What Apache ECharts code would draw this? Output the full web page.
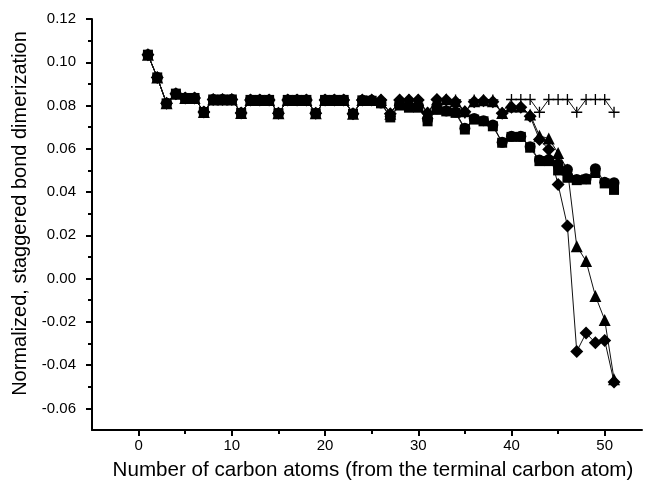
<!DOCTYPE html>
<html>
<head>
<meta charset="utf-8">
<script src="https://cdn.jsdelivr.net/npm/echarts@6/dist/echarts.min.js"></script>
<style>
  html, body { margin: 0; padding: 0; background: #fff; }
  #chart { width: 645px; height: 491px; }
</style>
</head>
<body>
<div id="chart"></div>
<script>
// Carbon atom index counted from the terminal carbon atom
const atoms = [1,2,3,4,5,6,7,8,9,10,11,12,13,14,15,16,17,18,19,20,21,22,23,24,25,26,27,28,29,30,31,32,33,34,35,36,37,38,39,40,41,42,43,44,45,46,47,48,49,50,51];

// Normalized staggered bond dimerization, one list per chain configuration
const squareVals = [0.1035,0.093,0.081,0.0855,0.0835,0.0835,0.077,0.0828,0.0828,0.0828,0.0766,0.0826,0.0826,0.0826,0.0764,0.0826,0.0826,0.0826,0.0764,0.0826,0.0826,0.0826,0.0762,0.0824,0.0822,0.081,0.0745,0.080,0.079,0.079,0.0727,0.078,0.0773,0.0766,0.0689,0.0735,0.0727,0.0704,0.0628,0.0655,0.0655,0.0605,0.0543,0.0543,0.050,0.0466,0.0455,0.0458,0.0488,0.044,0.041];
const circleVals = [0.1035,0.093,0.081,0.0855,0.0835,0.0835,0.077,0.0828,0.0828,0.0828,0.0766,0.0826,0.0826,0.0826,0.0764,0.0826,0.0826,0.0826,0.0764,0.0826,0.0826,0.0826,0.0762,0.0824,0.0824,0.0812,0.075,0.0805,0.0795,0.0795,0.0735,0.0785,0.0775,0.077,0.0695,0.074,0.073,0.071,0.063,0.0658,0.0658,0.061,0.0548,0.055,0.053,0.0504,0.0458,0.0462,0.0508,0.0445,0.0443];
const triangleVals = [0.1035,0.093,0.081,0.0855,0.0835,0.0835,0.077,0.0828,0.0828,0.0828,0.0766,0.0826,0.0826,0.0826,0.0764,0.0826,0.0826,0.0826,0.0764,0.0826,0.0826,0.0826,0.0762,0.0826,0.0826,0.0826,0.0762,0.0826,0.0826,0.0826,0.0766,0.0828,0.0829,0.082,0.0773,0.082,0.0824,0.082,0.0766,0.0795,0.0795,0.0758,0.066,0.0647,0.058,0.0504,0.015,0.0081,-0.008,-0.0191,-0.0465];
const diamondVals = [0.1035,0.093,0.081,0.0855,0.0835,0.0835,0.077,0.0828,0.0828,0.0828,0.0766,0.0826,0.0826,0.0826,0.0764,0.0826,0.0826,0.0826,0.0764,0.0826,0.0826,0.0826,0.0762,0.0826,0.0826,0.0826,0.0762,0.0826,0.0826,0.0826,0.0766,0.0828,0.0826,0.0818,0.0771,0.0818,0.0822,0.0818,0.0764,0.0792,0.0792,0.075,0.0643,0.0597,0.0435,0.0243,-0.0337,-0.0252,-0.0297,-0.0286,-0.0478];
const plusVals = [0.1035,0.093,0.081,0.0855,0.0835,0.0835,0.077,0.0828,0.0828,0.0828,0.0766,0.0826,0.0826,0.0826,0.0764,0.0826,0.0826,0.0826,0.0764,0.0826,0.0826,0.0826,0.0762,0.0826,0.0826,0.0826,0.0762,0.0826,0.0826,0.0826,0.0766,0.0826,0.0826,0.0826,0.0766,0.0826,0.0826,0.0826,0.0766,0.0828,0.0828,0.0828,0.0769,0.0828,0.0828,0.0828,0.0769,0.0828,0.0828,0.0828,0.0769];

// Axis tick positions
const xMajorTicks = [0, 10, 20, 30, 40, 50];
const xMinorTicks = [5, 15, 25, 35, 45];
const yMajorTicks = [-0.06, -0.04, -0.02, 0.00, 0.02, 0.04, 0.06, 0.08, 0.10, 0.12];
const yMinorTicks = [-0.05, -0.03, -0.01, 0.01, 0.03, 0.05, 0.07, 0.09, 0.11];

const xTitle = 'Number of carbon atoms (from the terminal carbon atom)';
const yTitle = 'Normalized, staggered bond dimerization';

const FONT = 'Liberation Sans, Arial, Helvetica, sans-serif';
const plusPath = 'path://M4.4,0h1.2v4.4h4.4v1.2h-4.4v4.4h-1.2v-4.4h-4.4v-1.2h4.4z';

function pairs(vals) {
  return atoms.map((a, i) => [a, vals[i]]);
}

function seriesOf(name, vals, symbol, size) {
  return {
    name: name,
    type: 'line',
    data: pairs(vals),
    symbol: symbol,
    symbolSize: size,
    showAllSymbol: true,
    animation: false,
    lineStyle: { color: '#111', width: 1 },
    itemStyle: { color: '#000', borderWidth: 0 },
    emphasis: { disabled: true }
  };
}

const axisLineStyle = { color: '#000', width: 2 };

const chart = echarts.init(document.getElementById('chart'), null, { renderer: 'canvas' });
chart.setOption({
  backgroundColor: '#fff',
  animation: false,
  grid: { left: 92, right: 3, top: 19, bottom: 61, containLabel: false },
  xAxis: [
    {
      type: 'value', min: -5, max: 54,
      axisLine: { show: true, onZero: false, lineStyle: axisLineStyle },
      axisTick: { show: true, inside: false, length: 6, lineStyle: { color: '#000', width: 2 }, customValues: xMajorTicks },
      axisLabel: { show: true, customValues: xMajorTicks, margin: 8, color: '#000', fontSize: 15, fontFamily: FONT },
      splitLine: { show: false },
      name: xTitle, nameLocation: 'middle', nameGap: 30,
      nameTextStyle: { color: '#000', fontSize: 20.6, fontFamily: FONT, padding: [0, 0, 0, 12] }
    },
    {
      type: 'value', min: -5, max: 54, position: 'bottom',
      axisLine: { show: false, onZero: false },
      axisTick: { show: true, inside: false, length: 4, lineStyle: { color: '#000', width: 2 }, customValues: xMinorTicks },
      axisLabel: { show: false },
      splitLine: { show: false }
    }
  ],
  yAxis: [
    {
      type: 'value', min: -0.07, max: 0.12,
      axisLine: { show: true, onZero: false, lineStyle: axisLineStyle },
      axisTick: { show: true, inside: false, length: 6, lineStyle: { color: '#000', width: 2 }, customValues: yMajorTicks },
      axisLabel: { show: true, customValues: yMajorTicks, margin: 16, color: '#000', fontSize: 15, fontFamily: FONT,
        formatter: v => v.toFixed(2) },
      splitLine: { show: false },
      name: yTitle, nameLocation: 'middle', nameGap: 62, nameRotate: 90,
      nameTextStyle: { color: '#000', fontSize: 20, fontFamily: FONT, padding: [0, 0, 0, 22] }
    },
    {
      type: 'value', min: -0.07, max: 0.12, position: 'left',
      axisLine: { show: false, onZero: false },
      axisTick: { show: true, inside: false, length: 4, lineStyle: { color: '#000', width: 2 }, customValues: yMinorTicks },
      axisLabel: { show: false },
      splitLine: { show: false }
    }
  ],
  series: [
    seriesOf('plus', plusVals, plusPath, 11),
    seriesOf('square', squareVals, 'rect', 10),
    seriesOf('circle', circleVals, 'circle', 11),
    seriesOf('triangle', triangleVals, 'triangle', 12),
    seriesOf('diamond', diamondVals, 'diamond', 13)
  ]
});
</script>
</body>
</html>
